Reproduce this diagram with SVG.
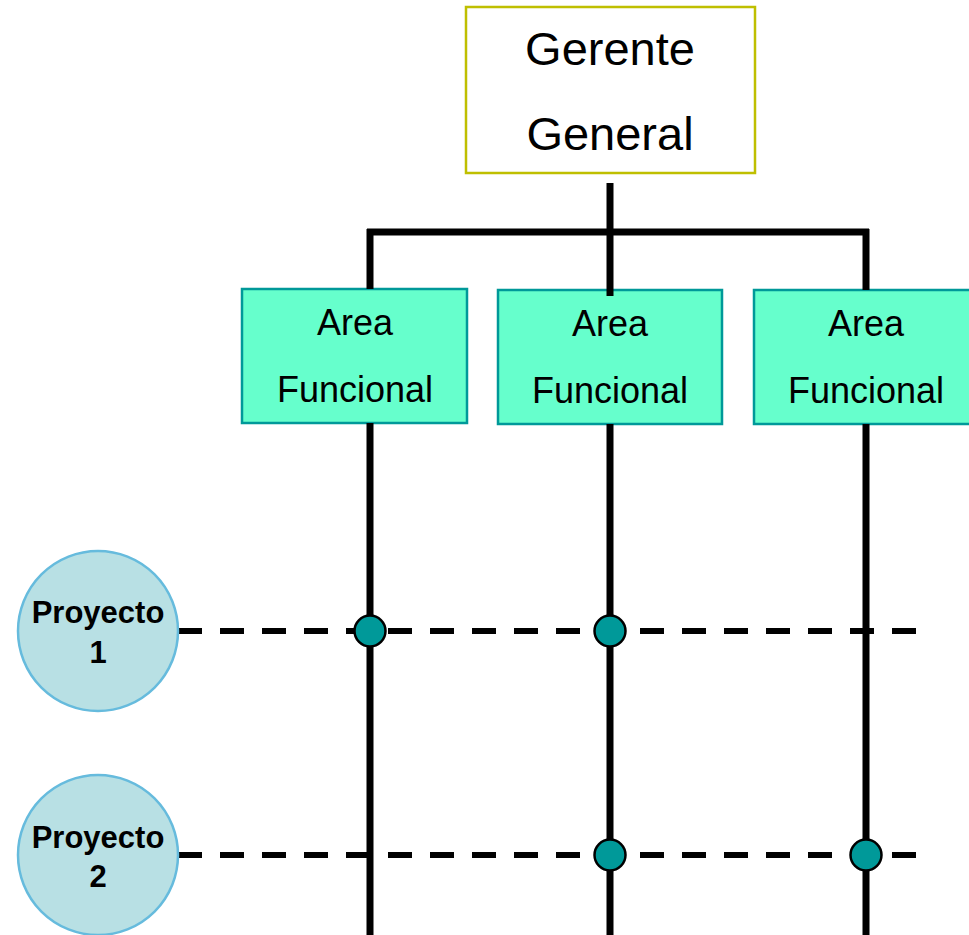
<svg xmlns="http://www.w3.org/2000/svg" width="969" height="935" viewBox="0 0 969 935">
  <style>
    .line { stroke: #000; stroke-width: 7; fill: none; }
    .dash { stroke: #000; stroke-width: 6; stroke-dasharray: 24 18; fill: none; }
    .gm { fill: #fff; stroke: #BFBF00; stroke-width: 2.5; }
    .area { fill: #66FFCC; stroke: #009999; stroke-width: 2.5; }
    .proj { fill: #B8E0E4; stroke: #66BBDD; stroke-width: 2.5; }
    .dot { fill: #009999; stroke: #000; stroke-width: 2.5; }
    .t { font-family: "Liberation Sans", Arial, sans-serif; text-anchor: middle; fill: #000; }
    .tg { font-size: 47px; }
    .ta { font-size: 36px; }
    .tp { font-size: 31px; font-weight: bold; }
  </style>

  <!-- top manager -->
  <g id="gerente">
    <rect class="gm" x="466" y="7" width="289" height="166"/>
    <text class="t tg" x="610" y="65">Gerente</text>
    <text class="t tg" x="610" y="150">General</text>
  </g>

  <!-- functional areas -->
  <g id="area1">
    <rect class="area" x="242" y="289" width="225" height="134"/>
    <text class="t ta" x="355" y="335">Area</text>
    <text class="t ta" x="355" y="402">Funcional</text>
  </g>
  <g id="area2">
    <rect class="area" x="498" y="290" width="224" height="134"/>
    <text class="t ta" x="610" y="336">Area</text>
    <text class="t ta" x="610" y="403">Funcional</text>
  </g>
  <g id="area3">
    <rect class="area" x="754" y="290" width="225" height="134"/>
    <text class="t ta" x="866" y="336">Area</text>
    <text class="t ta" x="866" y="403">Funcional</text>
  </g>

  <!-- connectors -->
  <g id="connectors">
    <line class="line" x1="610" y1="183" x2="610" y2="296"/>
    <line class="line" x1="367" y1="232" x2="869" y2="232"/>
    <line class="line" x1="370" y1="229" x2="370" y2="289"/>
    <line class="line" x1="866" y1="229" x2="866" y2="290"/>
    <line class="line" x1="370" y1="423" x2="370" y2="935"/>
    <line class="line" x1="610" y1="424" x2="610" y2="935"/>
    <line class="line" x1="866" y1="424" x2="866" y2="935"/>
    <line class="dash" x1="178" y1="631" x2="918" y2="631"/>
    <line class="dash" x1="178" y1="855" x2="916" y2="855"/>
  </g>

  <!-- projects -->
  <g id="proyecto1">
    <circle class="proj" cx="98" cy="631" r="80"/>
    <text class="t tp" x="98" y="623">Proyecto</text>
    <text class="t tp" x="98" y="663">1</text>
  </g>
  <g id="proyecto2">
    <circle class="proj" cx="98" cy="855" r="80"/>
    <text class="t tp" x="98" y="848">Proyecto</text>
    <text class="t tp" x="98" y="887">2</text>
  </g>

  <!-- project assignments -->
  <g id="asignaciones">
    <circle class="dot" cx="370" cy="631" r="15.5"/>
    <circle class="dot" cx="610" cy="631" r="15.5"/>
    <circle class="dot" cx="610" cy="855" r="15.5"/>
    <circle class="dot" cx="866" cy="855" r="15.5"/>
  </g>
</svg>
